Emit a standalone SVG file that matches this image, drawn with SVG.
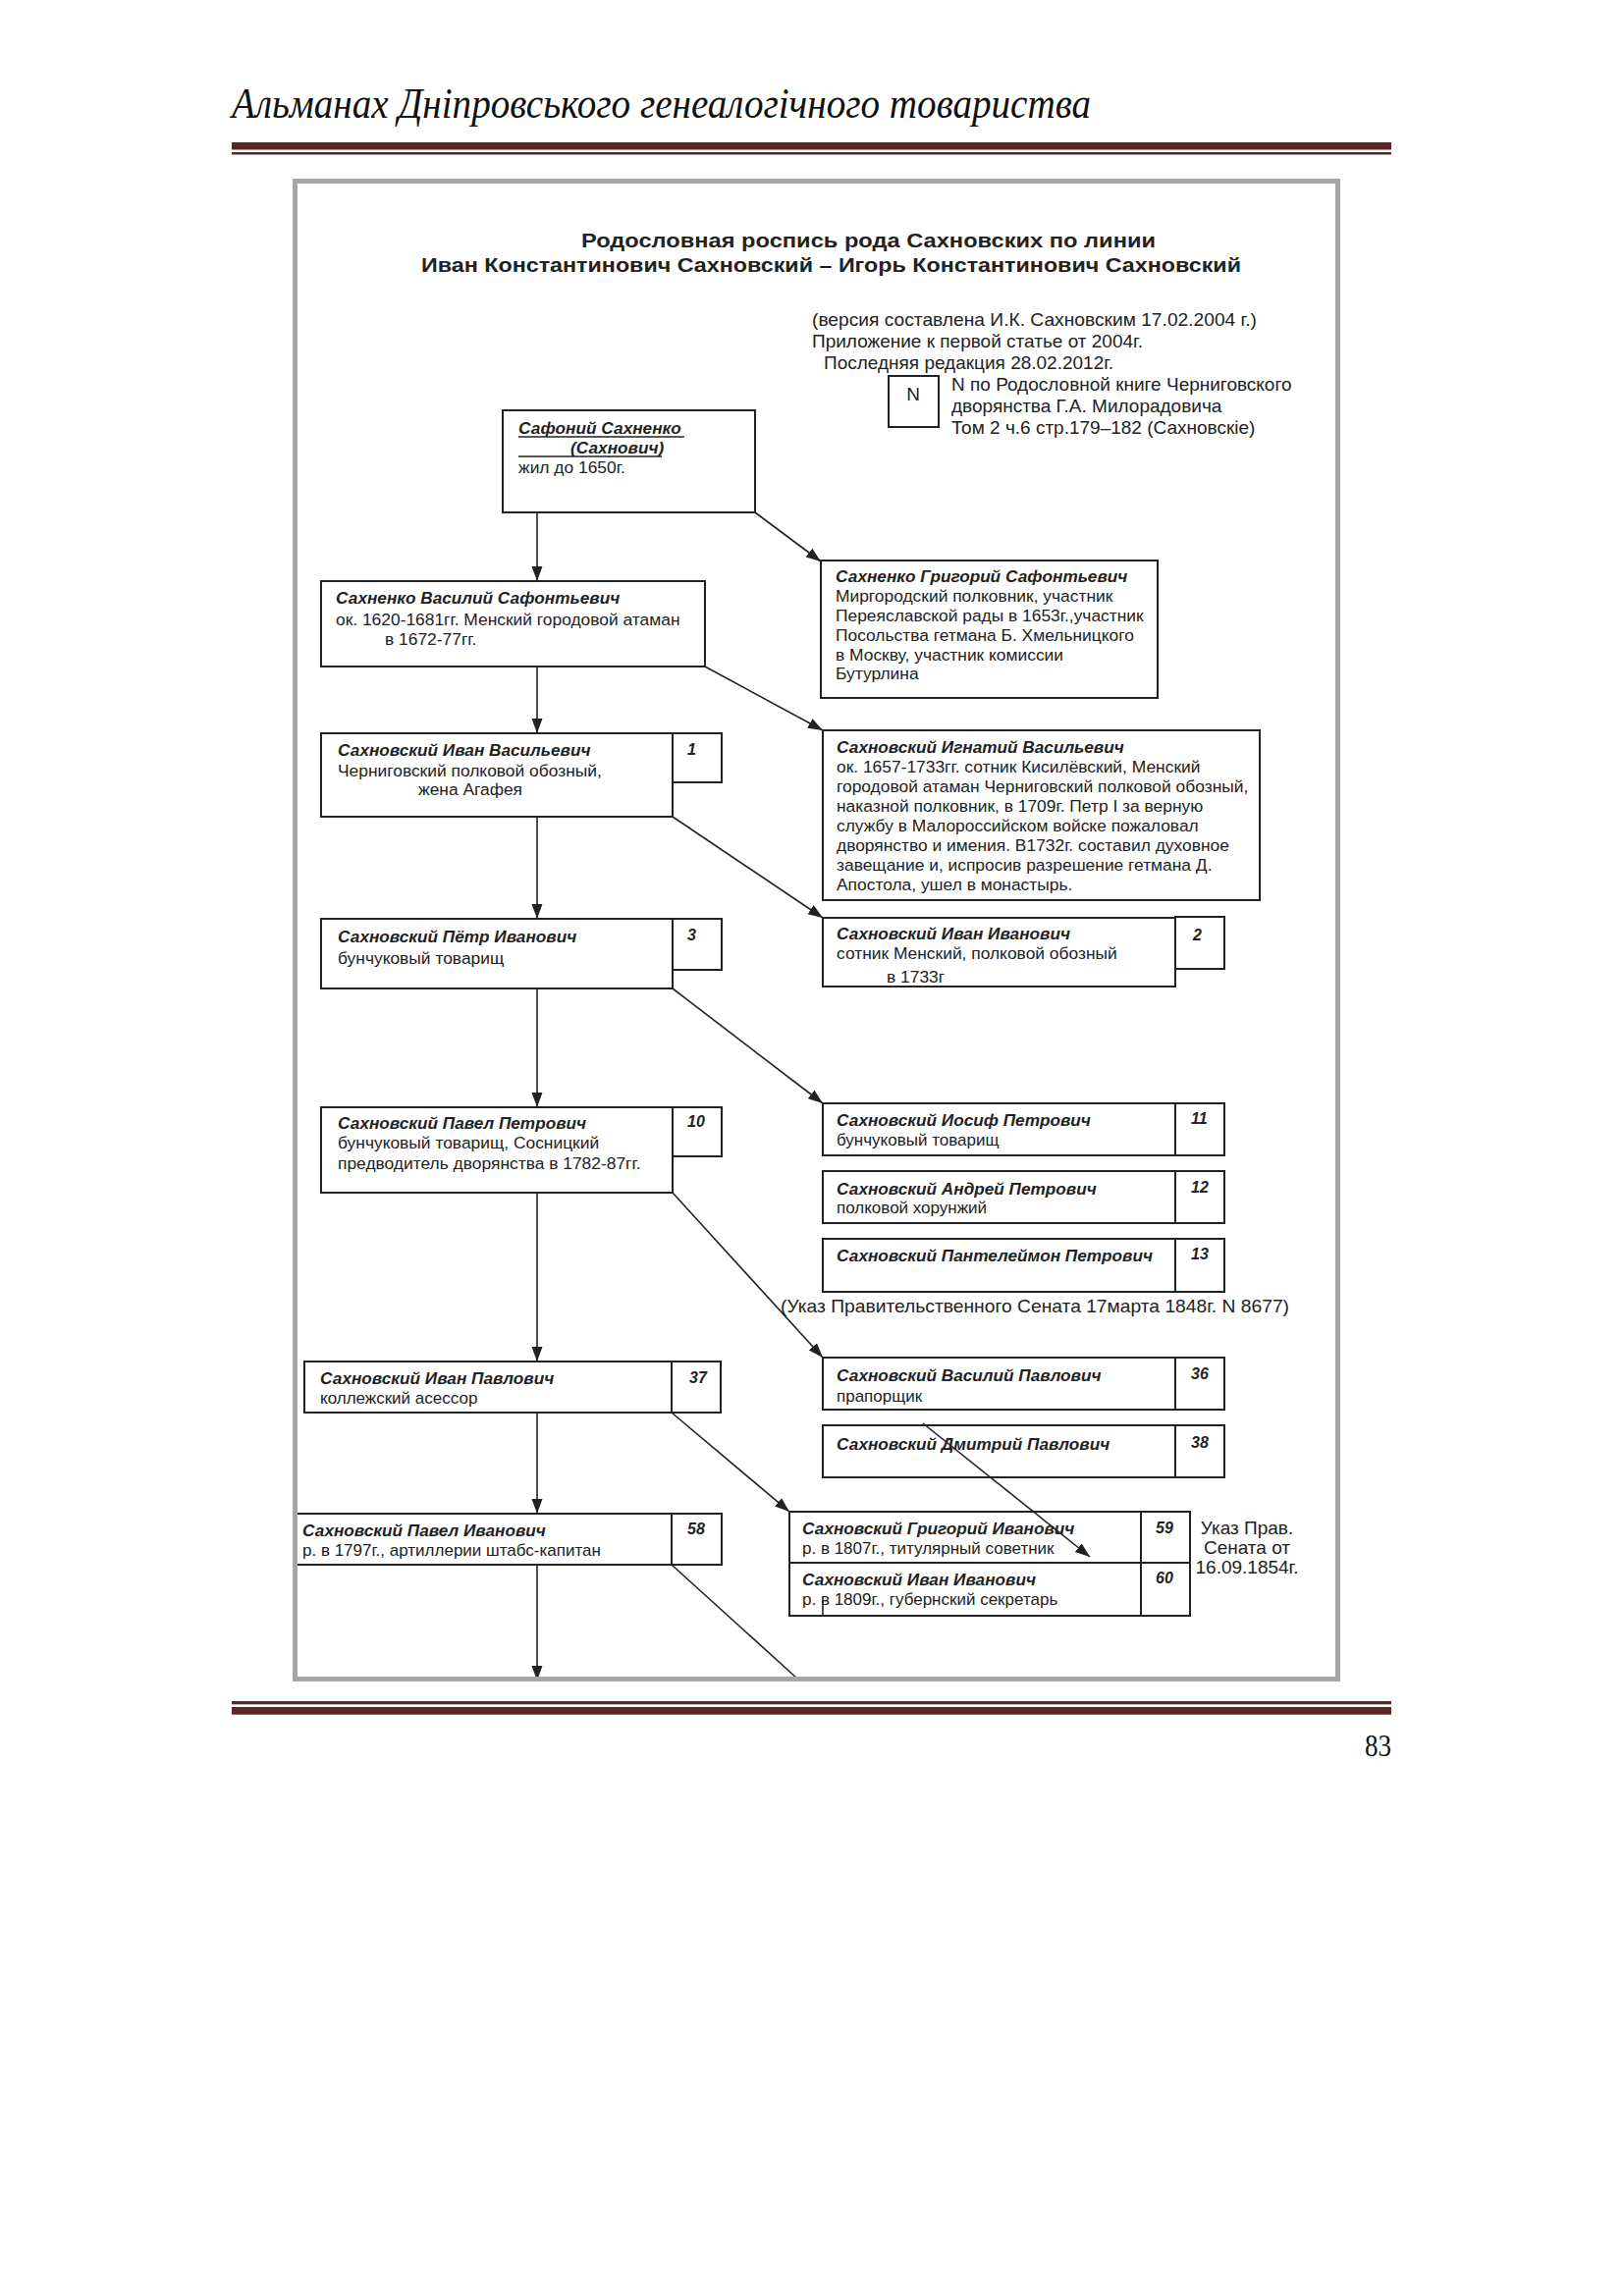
<svg xmlns="http://www.w3.org/2000/svg" width="1654" height="2339" viewBox="0 0 1654 2339">
<defs>
<style>
.box{fill:#fff;stroke:#222;stroke-width:2}
.nm{font-family:"Liberation Sans",Arial,sans-serif;font-size:17.2px;font-weight:bold;font-style:italic;fill:#222}
.tx{font-family:"Liberation Sans",Arial,sans-serif;font-size:17.4px;fill:#222}
.sm{font-family:"Liberation Sans",Arial,sans-serif;font-size:17px;fill:#222}
.num{font-family:"Liberation Sans",Arial,sans-serif;font-size:16px;font-weight:bold;font-style:italic;fill:#222}
.note{font-family:"Liberation Sans",Arial,sans-serif;font-size:19px;fill:#222}
.ttl{font-family:"Liberation Sans",Arial,sans-serif;font-size:21px;font-weight:bold;fill:#222}
.con{stroke:#222;stroke-width:1.6;fill:none}
.rule{fill:#5a2626}
</style>
<marker id="arr" markerUnits="userSpaceOnUse" markerWidth="16" markerHeight="12" refX="15" refY="5.5" orient="auto">
<path d="M0,0 L15,5.5 L0,11 z" fill="#222"/>
</marker>
<clipPath id="clipG"><rect x="838" y="935" width="359" height="70"/></clipPath>
</defs>
<rect x="0" y="0" width="1654" height="2339" fill="#fff"/>

<g id="header">
<text x="236" y="120" font-family="'Liberation Serif',serif" font-style="italic" font-size="44" textLength="875" lengthAdjust="spacingAndGlyphs" fill="#111">Альманах Дніпровського генеалогічного товариства</text>
<rect class="rule" x="236" y="145" width="1181" height="7.5"/>
<rect class="rule" x="236" y="155" width="1181" height="2.5"/>
</g>

<g id="footer">
<rect class="rule" x="236" y="1733" width="1181" height="3.3"/>
<rect class="rule" x="236" y="1739" width="1181" height="7.7"/>
<text x="1417" y="1789" text-anchor="end" font-family="'Liberation Serif',serif" font-size="32" textLength="27" lengthAdjust="spacingAndGlyphs" fill="#111">83</text>
</g>

<g id="titles">
<text class="ttl" x="592" y="252" textLength="585" lengthAdjust="spacingAndGlyphs">Родословная  роспись  рода Сахновских  по линии</text>
<text class="ttl" x="429" y="277" textLength="835" lengthAdjust="spacingAndGlyphs">Иван  Константинович  Сахновский – Игорь  Константинович  Сахновский</text>
<text class="note" x="827" y="332" textLength="453" lengthAdjust="spacingAndGlyphs">(версия составлена И.К. Сахновским 17.02.2004 г.)</text>
<text class="note" x="827" y="354">Приложение к первой статье от 2004г.</text>
<text class="note" x="839" y="376">Последняя редакция 28.02.2012г.</text>
</g>

<g id="legend">
<rect class="box" x="905" y="383" width="51" height="52"/>
<text class="note" x="930" y="408" text-anchor="middle">N</text>
<text class="note" x="969" y="398">N по Родословной книге Черниговского</text>
<text class="note" x="969" y="420">дворянства Г.А. Милорадовича</text>
<text class="note" x="969" y="442">Том 2 ч.6 стр.179–182 (Сахновскіе)</text>
</g>

<g id="connectors">
<line class="con" x1="547" y1="522" x2="547" y2="592" marker-end="url(#arr)"/>
<line class="con" x1="769" y1="522" x2="836" y2="572" marker-end="url(#arr)"/>
<line class="con" x1="547" y1="679" x2="547" y2="747" marker-end="url(#arr)"/>
<line class="con" x1="718" y1="679" x2="838" y2="744" marker-end="url(#arr)"/>
<line class="con" x1="547" y1="832" x2="547" y2="936" marker-end="url(#arr)"/>
<line class="con" x1="685" y1="832" x2="838" y2="935" marker-end="url(#arr)"/>
<line class="con" x1="547" y1="1007" x2="547" y2="1128" marker-end="url(#arr)"/>
<line class="con" x1="685" y1="1007" x2="838" y2="1124" marker-end="url(#arr)"/>
<line class="con" x1="547" y1="1215" x2="547" y2="1387" marker-end="url(#arr)"/>
<line class="con" x1="685" y1="1215" x2="838" y2="1383" marker-end="url(#arr)"/>
<line class="con" x1="547" y1="1439" x2="547" y2="1542" marker-end="url(#arr)"/>
<line class="con" x1="684" y1="1439" x2="804" y2="1540" marker-end="url(#arr)"/>
<line class="con" x1="547" y1="1594" x2="547" y2="1712" marker-end="url(#arr)"/>
<line class="con" x1="684" y1="1594" x2="812" y2="1710"/>
</g>

<g id="n-safoniy">
<rect class="box" x="512" y="418" width="257" height="104"/>
<text class="nm" x="528" y="442">Сафоний  Сахненко</text>
<line x1="528" y1="445" x2="697" y2="445" stroke="#222" stroke-width="1.5"/>
<text class="nm" x="581" y="462">(Сахнович)</text>
<line x1="528" y1="465" x2="674" y2="465" stroke="#222" stroke-width="1.5"/>
<text class="tx" x="528" y="482">жил до 1650г.</text>
</g>

<g id="n-grigoriy-saf">
<rect class="box" x="836" y="571" width="343" height="140"/>
<text class="nm" x="851" y="593">Сахненко Григорий Сафонтьевич</text>
<text class="tx" x="851" y="613">Миргородский полковник, участник</text>
<text class="tx" x="851" y="633">Переяславской рады в 1653г.,участник</text>
<text class="tx" x="851" y="653">Посольства гетмана Б. Хмельницкого</text>
<text class="tx" x="851" y="673">в Москву, участник комиссии</text>
<text class="tx" x="851" y="692">Бутурлина</text>
</g>

<g id="n-vasiliy-saf">
<rect class="box" x="327" y="592" width="391" height="87"/>
<text class="nm" x="342" y="615">Сахненко Василий Сафонтьевич</text>
<text class="tx" x="342" y="637">ок. 1620-1681гг.  Менский городовой  атаман</text>
<text class="tx" x="392" y="657">в 1672-77гг.</text>
</g>

<g id="n-ivan-vas">
<rect class="box" x="327" y="747" width="358" height="85"/>
<rect class="box" x="685" y="747" width="50" height="50"/>
<text class="nm" x="344" y="770">Сахновский Иван Васильевич</text>
<text class="tx" x="344" y="791">Черниговский полковой обозный,</text>
<text class="tx" x="426" y="810">жена  Агафея</text>
<text class="num" x="700" y="769">1</text>
</g>

<g id="n-ignatiy">
<rect class="box" x="838" y="744" width="445" height="173"/>
<text class="nm" x="852" y="767">Сахновский Игнатий Васильевич</text>
<text class="tx" x="852" y="787">ок. 1657-1733гг. сотник Кисилёвский, Менский</text>
<text class="tx" x="852" y="807">городовой атаман Черниговский полковой обозный,</text>
<text class="tx" x="852" y="827">наказной полковник, в 1709г. Петр I за верную</text>
<text class="tx" x="852" y="847">службу в Малороссийском войске пожаловал</text>
<text class="tx" x="852" y="867">дворянство и имения. В1732г. составил духовное</text>
<text class="tx" x="852" y="887">завещание и, испросив разрешение гетмана Д.</text>
<text class="tx" x="852" y="907">Апостола, ушел в монастырь.</text>
</g>

<g id="n-petr">
<rect class="box" x="327" y="936" width="358" height="71"/>
<rect class="box" x="685" y="936" width="50" height="52"/>
<text class="nm" x="344" y="960">Сахновский Пётр Иванович</text>
<text class="tx" x="344" y="982">бунчуковый товарищ</text>
<text class="num" x="700" y="958">3</text>
</g>

<g id="n-ivan-iv-2">
<rect class="box" x="838" y="935" width="359" height="70"/>
<rect class="box" x="1197" y="934" width="50" height="53"/>
<text class="nm" x="852" y="957">Сахновский  Иван Иванович</text>
<text class="tx" x="852" y="977">сотник Менский, полковой обозный</text>
<text class="tx" x="903" y="1001" clip-path="url(#clipG)">в 1733г</text>
<text class="num" x="1215" y="958">2</text>
</g>

<g id="n-pavel-petr">
<rect class="box" x="327" y="1128" width="358" height="87"/>
<rect class="box" x="685" y="1128" width="50" height="50"/>
<text class="nm" x="344" y="1150">Сахновский Павел Петрович</text>
<text class="tx" x="344" y="1170">бунчуковый товарищ, Сосницкий</text>
<text class="tx" x="344" y="1191">предводитель дворянства в 1782-87гг.</text>
<text class="num" x="700" y="1148">10</text>
</g>

<g id="n-iosif">
<rect class="box" x="838" y="1124" width="409" height="53"/>
<line class="box" x1="1197" y1="1124" x2="1197" y2="1177"/>
<text class="nm" x="852" y="1147">Сахновский  Иосиф Петрович</text>
<text class="sm" x="852" y="1167">бунчуковый товарищ</text>
<text class="num" x="1213" y="1145">11</text>
</g>

<g id="n-andrey">
<rect class="box" x="838" y="1193" width="409" height="53"/>
<line class="box" x1="1197" y1="1193" x2="1197" y2="1246"/>
<text class="nm" x="852" y="1217">Сахновский  Андрей Петрович</text>
<text class="sm" x="852" y="1236">полковой хорунжий</text>
<text class="num" x="1213" y="1215">12</text>
</g>

<g id="n-panteleymon">
<rect class="box" x="838" y="1262" width="409" height="54"/>
<line class="box" x1="1197" y1="1262" x2="1197" y2="1316"/>
<text class="nm" x="852" y="1285">Сахновский  Пантелеймон Петрович</text>
<text class="num" x="1213" y="1283">13</text>
</g>

<g id="ukaz-1848">
<text class="note" x="795" y="1337" textLength="518" lengthAdjust="spacingAndGlyphs">(Указ Правительственного Сената 17марта 1848г. N 8677)</text>
</g>

<g id="n-ivan-pavl">
<rect class="box" x="310" y="1387" width="424" height="52"/>
<line class="box" x1="684" y1="1387" x2="684" y2="1439"/>
<text class="nm" x="326" y="1410">Сахновский Иван Павлович</text>
<text class="sm" x="326" y="1430">коллежский асессор</text>
<text class="num" x="702" y="1409">37</text>
</g>

<g id="n-vasiliy-pavl">
<rect class="box" x="838" y="1383" width="409" height="53"/>
<line class="box" x1="1197" y1="1383" x2="1197" y2="1436"/>
<text class="nm" x="852" y="1407">Сахновский Василий Павлович</text>
<text class="sm" x="852" y="1428">прапорщик</text>
<text class="num" x="1213" y="1405">36</text>
</g>

<g id="n-dmitriy">
<rect class="box" x="838" y="1452" width="409" height="53"/>
<line class="box" x1="1197" y1="1452" x2="1197" y2="1505"/>
<text class="nm" x="852" y="1477">Сахновский Дмитрий Павлович</text>
<text class="num" x="1213" y="1475">38</text>
</g>

<g id="n-pavel-iv">
<rect class="box" x="301" y="1542" width="434" height="52"/>
<line class="box" x1="684" y1="1542" x2="684" y2="1594"/>
<text class="nm" x="308" y="1565">Сахновский Павел Иванович</text>
<text class="sm" x="308" y="1585">р. в 1797г., артиллерии штабс-капитан</text>
<text class="num" x="700" y="1563">58</text>
</g>

<g id="n-grigoriy-iv">
<rect class="box" x="804" y="1540" width="408" height="52"/>
<line class="box" x1="1162" y1="1540" x2="1162" y2="1592"/>
<text class="nm" x="817" y="1563">Сахновский Григорий Иванович</text>
<text class="sm" x="817" y="1583">р. в 1807г., титулярный советник</text>
<text class="num" x="1177" y="1562">59</text>
</g>

<g id="n-ivan-iv-60">
<rect class="box" x="804" y="1592" width="408" height="54"/>
<line class="box" x1="1162" y1="1592" x2="1162" y2="1646"/>
<text class="nm" x="817" y="1615">Сахновский Иван Иванович</text>
<text class="sm" x="817" y="1635">р. в 1809г., губернский секретарь</text>
<text class="num" x="1177" y="1613">60</text>
</g>

<g id="ukaz-1854">
<text class="note" x="1270" y="1563" text-anchor="middle">Указ Прав.</text>
<text class="note" x="1270" y="1583" text-anchor="middle">Сената от</text>
<text class="note" x="1270" y="1603" text-anchor="middle">16.09.1854г.</text>
</g>

<g id="overlay-lines">
<line class="con" x1="940" y1="1450" x2="1110" y2="1586" marker-end="url(#arr)"/>
<line class="con" x1="838" y1="1630" x2="838" y2="1646"/>
</g>

<rect id="frame" x="300.5" y="184.5" width="1062" height="1526" fill="none" stroke="#a6a6a6" stroke-width="5"/>
</svg>
